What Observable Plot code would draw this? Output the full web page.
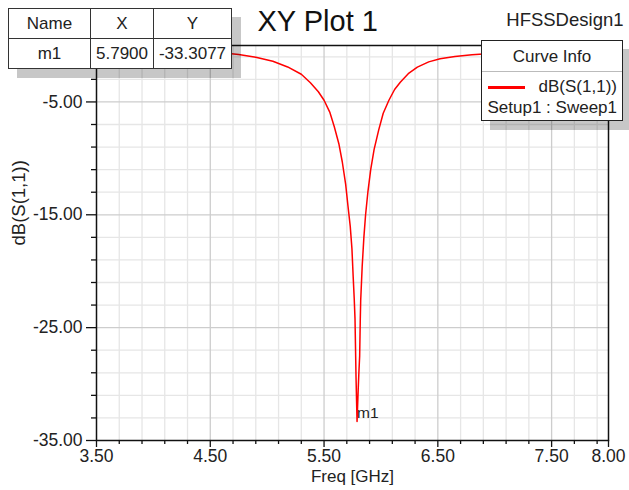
<!DOCTYPE html>
<html>
<head>
<meta charset="utf-8">
<script src="https://cdn.jsdelivr.net/npm/d3@7"></script>
<script src="https://cdn.jsdelivr.net/npm/@observablehq/plot@0.6"></script>
<style>
  html, body { margin: 0; padding: 0; background: #fff; }
  body { font-family: "Liberation Sans", Arial, sans-serif; color: #222; }
  #wrap { position: relative; width: 629px; height: 490px; overflow: hidden; }
  #wrap svg { position: absolute; left: 0; top: 0; }
  .mk { position: absolute; left: 8px; top: 8px; background: #fff;
        box-shadow: 9px 9px 0 rgba(0,0,0,0.22); }
  .mk table { border-collapse: collapse; table-layout: fixed; border: 1.5px solid #222; }
  .mk td { border: 1px solid #333; height: 29px; padding: 0; text-align: center;
           font-size: 17px; color: #222; line-height: 29px; }
  .lg { position: absolute; left: 481px; top: 40px; width: 142px; height: 81px;
        box-sizing: border-box; background: #fff; border: 1.5px solid #222;
        box-shadow: 9px 9px 0 rgba(0,0,0,0.22); font-size: 17px; color: #222; }
  .lg .hd { position: absolute; left: 0; right: 0; top: 0; height: 30px; line-height: 32px;
            text-align: center; border-bottom: 1px solid #bbb; }
  .lg .sw { position: absolute; left: 6px; top: 45px; width: 37px; height: 3px; background: #ff0000; }
  .lg .nm { position: absolute; right: 5px; top: 36px; line-height: 20px; }
  .lg .st { position: absolute; left: 5px; right: 5px; top: 57px; line-height: 20px; text-align: right; }
</style>
</head>
<body>
<div id="wrap"></div>
<script>
// ---- data ----
const freqGHz = [3.50, 3.80, 4.10, 4.40, 4.60, 4.75, 4.90, 5.05, 5.18, 5.30, 5.38, 5.45, 5.50, 5.55, 5.59, 5.63, 5.66, 5.69, 5.71, 5.73, 5.745, 5.756, 5.765, 5.772, 5.776, 5.781, 5.790, 5.800, 5.806, 5.813, 5.818, 5.822, 5.835, 5.850, 5.865, 5.885, 5.91, 5.94, 5.98, 6.02, 6.07, 6.12, 6.17, 6.24, 6.32, 6.42, 6.52, 6.65, 6.80, 7.00, 7.30, 7.60, 8.00];
const s11dB = [-0.28, -0.33, -0.41, -0.53, -0.65, -0.80, -1.05, -1.40, -1.90, -2.55, -3.30, -4.10, -4.85, -5.90, -7.20, -8.70, -10.30, -12.30, -14.20, -16.00, -18.00, -20.50, -22.40, -24.20, -26.50, -29.40, -33.3077, -30.50, -29.00, -27.50, -24.50, -22.60, -19.60, -17.00, -15.00, -13.00, -11.00, -9.20, -7.50, -6.00, -4.85, -3.90, -3.25, -2.50, -1.92, -1.45, -1.18, -0.98, -0.82, -0.68, -0.55, -0.47, -0.40];

const markerName = ["m1"];
const markerX = [5.79];
const markerY = [-33.3077];

const seriesName = "dB(S(1,1))";
const setupName = "Setup1 : Sweep1";
const plotTitle = "XY Plot 1";
const designName = "HFSSDesign1";
const xLabel = "Freq [GHz]";
const yLabel = "dB(S(1,1))";

const xTickLabels = [3.5, 4.5, 5.5, 6.5, 7.5, 8.0];
const yTickLabels = [-35, -25, -15, -5];
const xMajorGrid = [4.5, 5.5, 6.5, 7.5];
const yMajorGrid = [-25, -15, -5];
const xMinorGrid = [3.7, 3.9, 4.1, 4.3, 4.7, 4.9, 5.1, 5.3, 5.7, 5.9, 6.1, 6.3, 6.7, 6.9, 7.1, 7.3, 7.7, 7.9];
const yMinorGrid = [-33, -31, -29, -27, -23, -21, -19, -17, -13, -11, -9, -7, -3, -1];

// ---- chart ----
const curve = freqGHz.map((f, i) => ({f, db: s11dB[i]}));
const fmt = d => d.toFixed(2);
const font = '"Liberation Sans", Arial, sans-serif';

const chart = Plot.plot({
  width: 629,
  height: 490,
  marginLeft: 96,
  marginRight: 21,
  marginTop: 45,
  marginBottom: 50,
  style: {fontFamily: font, fontSize: "17px", color: "#222", background: "#fff"},
  x: {domain: [3.5, 8], label: null},
  y: {domain: [-35, 0], label: null},
  marks: [
    Plot.ruleX(xMinorGrid, {stroke: "#e6e6e6", strokeWidth: 1.3}),
    Plot.ruleY(yMinorGrid, {stroke: "#e6e6e6", strokeWidth: 1.3}),
    Plot.ruleX(xMajorGrid, {stroke: "#cdcdcd", strokeWidth: 1.3}),
    Plot.ruleY(yMajorGrid, {stroke: "#cdcdcd", strokeWidth: 1.3}),
    Plot.line(curve, {x: "f", y: "db", stroke: "#ff0000", strokeWidth: 1.5}),
    Plot.frame({stroke: "#111", strokeWidth: 1.5}),
    Plot.axisY(yMinorGrid, {tickSize: 5, fill: "none", stroke: "#111", strokeWidth: 1.3, label: null}),
    Plot.axisY(yTickLabels, {tickSize: 10, tickPadding: 4, tickFormat: fmt, stroke: "#111", strokeWidth: 1.3, fill: "#222", fontSize: 17.5, label: null}),
    Plot.axisX(xMinorGrid, {tickSize: 4, fill: "none", stroke: "#111", strokeWidth: 1.3, label: null}),
    Plot.axisX(xTickLabels, {tickSize: 7, tickPadding: 2, tickFormat: fmt, stroke: "#111", strokeWidth: 1.3, fill: "#222", fontSize: 17.5, label: null}),
    Plot.text(markerName, {x: (d, i) => markerX[i], y: (d, i) => markerY[i], text: d => d,
      textAnchor: "start", lineAnchor: "middle", dy: -8, fontSize: 15.5, fill: "#222"}),
    Plot.text([xLabel], {frameAnchor: "bottom", dy: 36, lineAnchor: "middle", fontSize: 17, fill: "#222"}),
    Plot.text([yLabel], {frameAnchor: "left", rotate: -90, dx: -77, dy: 2.5, lineAnchor: "middle", fontSize: 18.5, fill: "#222"}),
    Plot.text([plotTitle], {frameAnchor: "top-left", dx: 161, dy: -24, textAnchor: "start", lineAnchor: "middle", fontSize: 29, fill: "#111"}),
    Plot.text([designName], {frameAnchor: "top-right", dx: 15, dy: -25.5, textAnchor: "end", lineAnchor: "middle", fontSize: 18.5, fill: "#222"})
  ]
});

const wrap = document.getElementById("wrap");
wrap.append(chart);

// marker table (overlay)
const mk = document.createElement("div");
mk.className = "mk";
mk.innerHTML = `<table>
  <colgroup><col style="width:82px"><col style="width:63px"><col style="width:78px"></colgroup>
  <tr><td>Name</td><td>X</td><td>Y</td></tr>
  ${markerName.map((n, i) => `<tr><td>${n}</td><td>${markerX[i].toFixed(4)}</td><td>${markerY[i].toFixed(4)}</td></tr>`).join("")}
</table>`;
wrap.append(mk);

// curve info legend (overlay)
const lg = document.createElement("div");
lg.className = "lg";
lg.innerHTML = `<div class="hd">Curve Info</div><div class="sw"></div>
  <div class="nm">${seriesName}</div><div class="st">${setupName}</div>`;
wrap.append(lg);
</script>
</body>
</html>
